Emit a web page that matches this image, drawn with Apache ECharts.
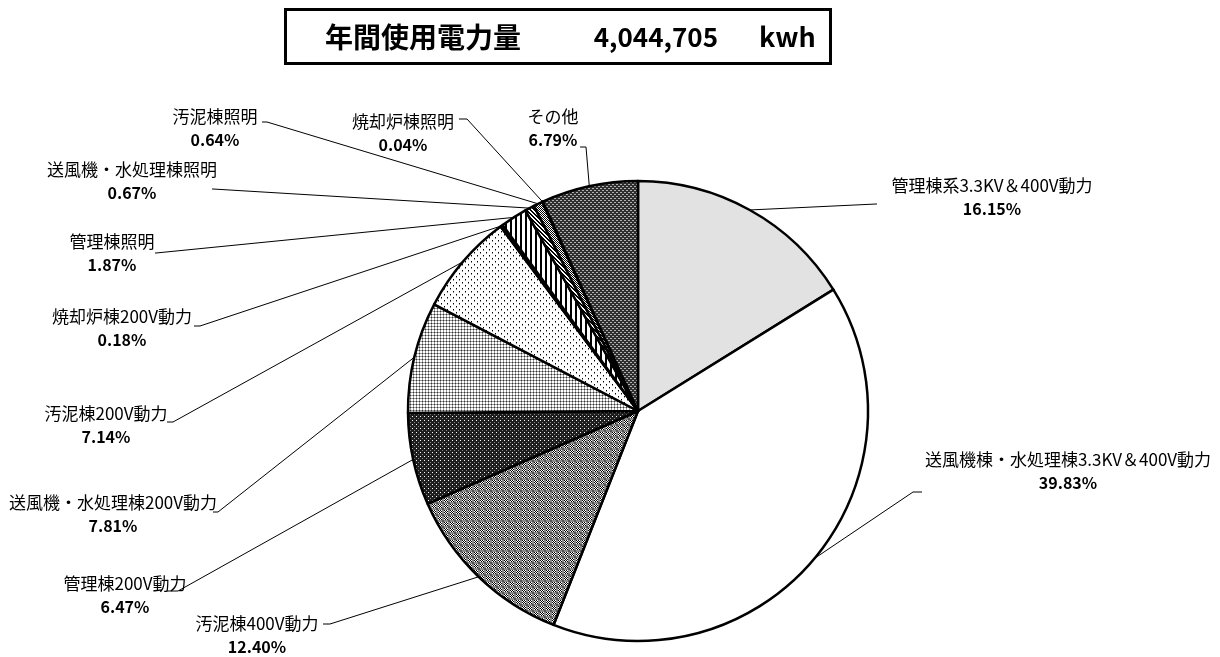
<!DOCTYPE html>
<html><head><meta charset="utf-8">
<script src="https://cdn.jsdelivr.net/npm/echarts@6/dist/echarts.min.js"></script>
<style>html,body{margin:0;padding:0;background:#fff}#c{width:1220px;height:657px}</style>
</head><body><div id="c"></div>
<script>
// ---- data ----
const categories = ['管理棟系3.3KV＆400V動力', '送風機棟・水処理棟3.3KV＆400V動力', '汚泥棟400V動力', '管理棟200V動力', '送風機・水処理棟200V動力', '汚泥棟200V動力', '焼却炉棟200V動力', '管理棟照明', '送風機・水処理棟照明', '汚泥棟照明', '焼却炉棟照明', 'その他'];
const sharePercent = [16.15, 39.83, 12.40, 6.47, 7.81, 7.14, 0.18, 1.87, 0.67, 0.64, 0.04, 6.79];
const titleLabel = '年間使用電力量';
const annualKwh = 4044705;
const unitLabel = 'kwh';

// ---- label placement (layout only) ----
const labelPlacement = [
  { cx: 992,  cy: 197.5, elbow: [876, 204], end: [877, 204] },
  { cx: 1068, cy: 471.5, elbow: [913, 492], end: [922, 492] },
  { cx: 257,  cy: 635,   elbow: [330, 624], end: [323, 624] },
  { cx: 125,  cy: 595,   elbow: [178, 591], end: [167, 591] },
  { cx: 113,  cy: 514,   elbow: [218, 512], end: [213, 512] },
  { cx: 106,  cy: 425.5, elbow: [173, 422], end: [167, 422] },
  { cx: 122,  cy: 328.5, elbow: [200, 326], end: [194, 326] },
  { cx: 112,  cy: 253.5, elbow: [156, 253], end: [155, 253] },
  { cx: 132,  cy: 181.5, elbow: [213, 189], end: [212, 189] },
  { cx: 215,  cy: 128,   elbow: [267, 122], end: [262, 122] },
  { cx: 403,  cy: 133,   elbow: [467, 119], end: [459, 119] },
  { cx: 553,  cy: 128.5, elbow: [586, 147], end: [580, 147] }
];

// ---- fill patterns ----
function pat(rows, colors) {
  const h = rows.length, w = rows[0].length;
  const c = document.createElement('canvas'); c.width = w; c.height = h;
  const ctx = c.getContext('2d');
  for (let y = 0; y < h; y++) for (let x = 0; x < w; x++) {
    ctx.fillStyle = colors[rows[y][x]]; ctx.fillRect(x, y, 1, 1);
  }
  return { image: c, repeat: 'repeat' };
}
const fills = [
  '#e2e2e2',
  '#ffffff',
  pat(['KWKWGG','WKWKGG','KWKWGG','WKWKGG','GGGGDD','GGGGDD'], {K:'#000',W:'#fff',G:'#8a8a8a',D:'#555'}),
  pat(['WDDD','DDDD','DDGD','DDDD'], {W:'#fff',G:'#888',D:'#1e1e1e'}),
  pat(['WWG','WWG','GGK'], {W:'#fff',G:'#999',K:'#333'}),
  pat(['KWWWWW','GWWWWW','WWWWWW','WWWKWW','WWWGWW','WWWWWW'], {K:'#000',G:'#888',W:'#fff'}),
  pat(['KWWW','WWWW','WWKW','WWWW'], {K:'#000',W:'#fff'}),
  pat(['KKWWW'], {K:'#000',W:'#fff'}),
  pat(['KKWW','WKKW','WWKK','KWWK'], {K:'#000',W:'#fff'}),
  pat(['KW','WK'], {K:'#000',W:'#fff'}),
  '#ffffff',
  pat(['LLDD','DDDD','DDLL','DDDD'], {L:'#b0b0b0',D:'#2f2f2f'})
];

const FONT = '"Noto Sans CJK JP", "Noto Sans", sans-serif';
const PIE_C = [638, 411], PIE_R = 230;

const chart = echarts.init(document.getElementById('c'), null, { renderer: 'canvas' });
chart.setOption({
  backgroundColor: '#fff',
  animation: false,
  graphic: [
    { type: 'rect', shape: { x: 285.5, y: 9.5, width: 545, height: 54 },
      style: { fill: '#fff', stroke: '#000', lineWidth: 3 } },
    { type: 'text', x: 325, y: 37, style: { text: titleLabel, fontSize: 28, fontWeight: 'bold', fontFamily: FONT, fill: '#000', align: 'left', verticalAlign: 'middle' } },
    { type: 'text', x: 718, y: 37, style: { text: annualKwh.toLocaleString('en-US'), fontSize: 26, fontWeight: 'bold', fontFamily: FONT, fill: '#000', align: 'right', verticalAlign: 'middle' } },
    { type: 'text', x: 759, y: 37, style: { text: unitLabel, fontSize: 27, fontWeight: 'bold', fontFamily: FONT, fill: '#000', align: 'left', verticalAlign: 'middle' } }
  ],
  series: [{
    type: 'pie',
    center: PIE_C,
    radius: PIE_R,
    startAngle: 90,
    clockwise: true,
    avoidLabelOverlap: false,
    silent: true,
    data: categories.map((n, i) => ({ name: n, value: sharePercent[i], itemStyle: { color: fills[i] } })),
    itemStyle: { borderColor: '#000', borderWidth: 2.5 },
    label: {
      show: true,
      position: 'outside',
      formatter: p => '{n|' + p.name + '}\n{p|' + p.value.toFixed(2) + '%}',
      rich: {
        n: { fontSize: 17, fontFamily: FONT, color: '#000', lineHeight: 23, align: 'center' },
        p: { fontSize: 16, fontFamily: FONT, fontWeight: 'bold', color: '#000', lineHeight: 23, align: 'center' }
      }
    },
    labelLine: { show: true, length: 10, length2: 10, smooth: false, lineStyle: { color: '#000', width: 1 } },
    labelLayout: function (params) {
      const L = labelPlacement[params.dataIndex];
      const pts = params.labelLinePoints;
      let start;
      if (pts && pts[0]) start = pts[0];
      else {
        let cum = 0; for (let k = 0; k < params.dataIndex; k++) cum += sharePercent[k];
        const tot = sharePercent.reduce((a, b) => a + b, 0);
        const a = (cum + sharePercent[params.dataIndex] / 2) / tot * 2 * Math.PI;
        start = [PIE_C[0] + PIE_R * Math.sin(a), PIE_C[1] - PIE_R * Math.cos(a)];
      }
      return { x: L.cx, y: L.cy, align: 'center', verticalAlign: 'middle', labelLinePoints: [start, L.elbow, L.end] };
    }
  }]
});
</script>
</body></html>
